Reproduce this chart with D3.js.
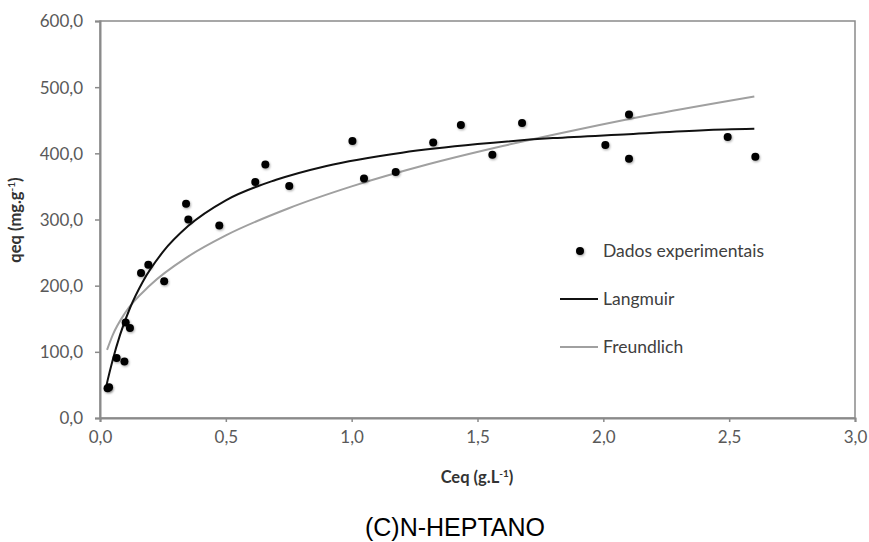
<!DOCTYPE html>
<html lang="pt">
<head>
<meta charset="UTF-8">
<title>(C)N-HEPTANO</title>
<script src="https://d3js.org/d3.v7.min.js"></script>
<style>
  body { margin: 0; background: #fff; }
  .tick text { font: 17px Lato, sans-serif; fill: #595959; }
  .axis-title { font: bold 16.5px Lato, sans-serif; fill: #333; }
  .legend text { font: 17.5px Lato, sans-serif; fill: #404040; }
  .caption { font: 25px "Liberation Sans", Arial, sans-serif; fill: #000; }
</style>
</head>
<body>
<svg width="869" height="542"></svg>
<script>
var ceq = [0.030, 0.036, 0.066, 0.097, 0.102, 0.119, 0.163, 0.192, 0.255, 0.342, 0.351, 0.474,
           0.617, 0.657, 0.752, 1.003, 1.049, 1.175, 1.324, 1.434, 1.559, 1.677, 2.008, 2.102,
           2.102, 2.494, 2.604];
var qeq = [45, 46.5, 90.5, 85.3, 144.4, 135.9, 219.2, 231.8, 206.5, 323.8, 300, 290.9,
           356.5, 383.3, 350.5, 418.6, 362.1, 371.7, 416.2, 442.9, 398, 445.9, 412.6, 458.6,
           392, 424.7, 395];

// fitted curves
var langC = [0.022, 0.03, 0.05, 0.08, 0.12, 0.17, 0.25, 0.35, 0.5, 0.7, 0.9, 1.2, 1.5, 1.8, 2.1, 2.4, 2.6];
var langQ = [43, 56.5, 87, 126, 167, 206, 251, 290, 329, 360, 381, 401, 414, 423, 429, 435, 437];
var freC = [0.028, 0.05, 0.1, 0.2, 0.35, 0.5, 0.75, 1.0, 1.3, 1.6, 1.9, 2.2, 2.6];
var freQ = [103, 125, 159, 201, 244, 276, 317, 350, 383, 411, 436, 459, 486];

var xTicks = [0, 0.5, 1, 1.5, 2, 2.5, 3];
var yTicks = [0, 100, 200, 300, 400, 500, 600];
var legendNames = ["Dados experimentais", "Langmuir", "Freundlich"];

var svg = d3.select("svg");
var mLeft = 100, mRight = 855, mTop = 21, mBottom = 418;

var x = d3.scaleLinear().domain([0, 3]).range([mLeft, mRight]);
var y = d3.scaleLinear().domain([0, 600]).range([mBottom, mTop]);
var fmt = function(d) { return d3.format(".1f")(d).replace(".", ","); };

var defs = svg.append("defs");
var f = defs.append("filter").attr("id", "shadow").attr("x", "-50%").attr("y", "-50%")
  .attr("width", "200%").attr("height", "200%");
f.append("feDropShadow").attr("dx", 0.8).attr("dy", 1.2).attr("stdDeviation", 0.9)
  .attr("flood-color", "#000").attr("flood-opacity", 0.35);

// frame
svg.append("rect")
  .attr("x", mLeft).attr("y", mTop)
  .attr("width", mRight - mLeft).attr("height", mBottom - mTop)
  .attr("fill", "none").attr("stroke", "#8a8a8a").attr("stroke-width", 1.5);

var xAxis = svg.append("g").attr("transform", "translate(0," + mBottom + ")")
  .call(d3.axisBottom(x).tickValues(xTicks).tickFormat(fmt).tickSize(4).tickPadding(9));
var yAxis = svg.append("g").attr("transform", "translate(" + mLeft + ",0)")
  .call(d3.axisLeft(y).tickValues(yTicks).tickFormat(fmt).tickSize(5).tickPadding(12));
[xAxis, yAxis].forEach(function(a) {
  a.select(".domain").attr("stroke", "#8a8a8a").attr("stroke-width", 2);
  a.selectAll(".tick line").attr("stroke", "#8a8a8a").attr("stroke-width", 1.5);
});
yAxis.selectAll(".tick text").attr("dy", "0.35em");

// axis titles
var xt = svg.append("text").attr("class", "axis-title")
  .attr("x", 477).attr("y", 483).attr("text-anchor", "middle");
xt.append("tspan").text("Ceq (g.L");
xt.append("tspan").attr("font-size", "10px").attr("dy", "-6").text("-1");
xt.append("tspan").attr("dy", "6").text(")");

var yt = svg.append("text").attr("class", "axis-title")
  .attr("transform", "translate(21," + 220 + ") rotate(-90)")
  .attr("text-anchor", "middle");
yt.append("tspan").text("qeq (mg.g");
yt.append("tspan").attr("font-size", "10px").attr("dy", "-6").text("-1");
yt.append("tspan").attr("dy", "6").text(")");

// curves
var line = d3.line().curve(d3.curveMonotoneX)
  .x(function(d) { return x(d[0]); }).y(function(d) { return y(d[1]); });

svg.append("path").datum(d3.zip(freC, freQ))
  .attr("d", line).attr("fill", "none").attr("stroke", "#a0a0a0").attr("stroke-width", 2);
svg.append("path").datum(d3.zip(langC, langQ))
  .attr("d", line).attr("fill", "none").attr("stroke", "#111").attr("stroke-width", 2);

// points
svg.append("g").selectAll("circle").data(d3.zip(ceq, qeq)).enter().append("circle")
  .attr("cx", function(d) { return x(d[0]); })
  .attr("cy", function(d) { return y(d[1]); })
  .attr("r", 4).attr("fill", "#000").attr("filter", "url(#shadow)");

// legend
var lg = svg.append("g").attr("class", "legend");
var ly = d3.scalePoint().domain(legendNames).range([251, 347]);
lg.append("circle").attr("cx", 580).attr("cy", ly(legendNames[0])).attr("r", 4)
  .attr("fill", "#000").attr("filter", "url(#shadow)");
lg.append("line").attr("x1", 560).attr("x2", 598)
  .attr("y1", ly(legendNames[1])).attr("y2", ly(legendNames[1]))
  .attr("stroke", "#111").attr("stroke-width", 2);
lg.append("line").attr("x1", 560).attr("x2", 598)
  .attr("y1", ly(legendNames[2])).attr("y2", ly(legendNames[2]))
  .attr("stroke", "#a0a0a0").attr("stroke-width", 2);
lg.selectAll("text").data(legendNames).enter().append("text")
  .attr("x", 603).attr("y", function(d) { return ly(d); }).attr("dy", "0.35em")
  .text(function(d) { return d; });

// caption
svg.append("text").attr("class", "caption")
  .attr("x", 455).attr("y", 536).attr("text-anchor", "middle")
  .text("(C)N-HEPTANO");
</script>
</body>
</html>
